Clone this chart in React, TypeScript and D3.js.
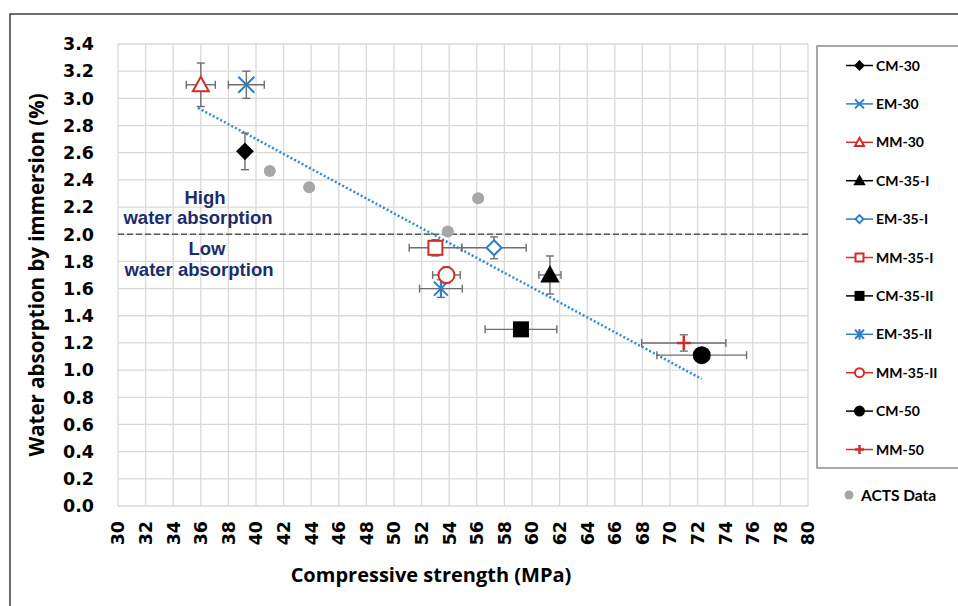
import React from "react";
import * as d3 from "d3";

// ---- data ----
const seriesNames = ["CM-30", "EM-30", "MM-30", "CM-35-I", "EM-35-I", "MM-35-I", "CM-35-II", "EM-35-II", "MM-35-II", "CM-50", "MM-50"];
const strengthMPa = [39.2, 39.3, 36.0, 61.3, 57.25, 53.0, 59.2, 53.4, 53.8, 72.3, 71.0];
const absorptionPct = [2.61, 3.1, 3.1, 1.7, 1.9, 1.9, 1.3, 1.6, 1.7, 1.11, 1.2];
const strengthErr = [0, 1.3, 1.05, 0.8, 2.33, 1.9, 2.6, 1.55, 1.0, 3.25, 3.05];
const absorptionErr = [0.135, 0.1, 0.16, 0.14, 0.08, 0.06, 0.04, 0.065, 0.06, 0.03, 0.06];
const markerShapes = ["diamond", "x", "triangle", "triangle", "diamond", "square", "square", "asterisk", "circle", "circle", "plus"];
const markerFilled = [true, false, false, true, false, false, true, false, false, true, false];
const seriesColors = ["#000000", "#2E7DC8", "#D42A2A", "#000000", "#2E7DC8", "#D42A2A", "#000000", "#2E7DC8", "#D42A2A", "#000000", "#D42A2A"];

const actsStrength = [41.0, 43.85, 53.9, 56.1];
const actsAbsorption = [2.465, 2.345, 2.02, 2.265];

const trendStrength = [35.8, 72.3];
const trendAbsorption = [2.93, 0.935];

const xTicks = d3.range(30, 81, 2);
const yTicks = d3.range(0, 3.41, 0.2);
const thresholdValue = 2.0;

// ---- layout ----
const W = 958, H = 606;
const x = d3.scaleLinear().domain([30, 80]).range([118, 808]);
const y = d3.scaleLinear().domain([0, 3.4]).range([506, 44]);

function Marker({ shape, filled, color, cx, cy, s }: any) {
  const fill = filled ? color : "white";
  const sw = 2;
  switch (shape) {
    case "diamond":
      return <path d={`M${cx},${cy - s}L${cx + s},${cy}L${cx},${cy + s}L${cx - s},${cy}Z`} fill={fill} stroke={color} strokeWidth={sw} />;
    case "triangle": {
      const h = s * 1.0;
      return <path d={`M${cx},${cy - h}L${cx + s},${cy + h * 0.8}L${cx - s},${cy + h * 0.8}Z`} fill={fill} stroke={color} strokeWidth={sw} strokeLinejoin="miter" />;
    }
    case "square":
      return <rect x={cx - s} y={cy - s} width={2 * s} height={2 * s} fill={fill} stroke={color} strokeWidth={sw} />;
    case "circle":
      return <circle cx={cx} cy={cy} r={s} fill={fill} stroke={color} strokeWidth={sw} />;
    case "x":
      return <path d={`M${cx - s},${cy - s}L${cx + s},${cy + s}M${cx - s},${cy + s}L${cx + s},${cy - s}`} stroke={color} strokeWidth={sw} fill="none" />;
    case "asterisk":
      return <path d={`M${cx - s},${cy - s}L${cx + s},${cy + s}M${cx - s},${cy + s}L${cx + s},${cy - s}M${cx},${cy - s * 1.2}L${cx},${cy + s * 1.2}`} stroke={color} strokeWidth={sw} fill="none" />;
    case "plus":
      return <path d={`M${cx - s},${cy}L${cx + s},${cy}M${cx},${cy - s}L${cx},${cy + s}`} stroke={color} strokeWidth={2.5} fill="none" />;
    default:
      return null;
  }
}

const markerSize: Record<string, number> = { diamond: 7.5, x: 8, triangle: 8, square: 7, circle: 8, asterisk: 7, plus: 7 };
const legendSize: Record<string, number> = { diamond: 4, x: 4.5, triangle: 4.5, square: 4, circle: 4.5, asterisk: 4.5, plus: 4.5 };

export default function App() {
  const [x0, x1] = x.range();
  const [y0, y1] = y.range();
  const errColor = "#6E6E6E";
  const cap = 4;
  const legendY0 = 65.5, legendStep = 38.4;
  const trendLine = d3.line<number>()
    .x((_, i) => x(trendStrength[i]))
    .y((d) => y(d));

  return (
    <svg width={W} height={H} style={{ position: "absolute", left: 0, top: 0, background: "white" }}>
      <rect x={0} y={0} width={W} height={H} fill="white" />
      {/* outer frame */}
      <rect x={10} y={14} width={970} height={610} fill="none" stroke="#3C3C3C" strokeWidth={1.5} />

      {/* grid */}
      {xTicks.map((t) => (
        <line key={"gx" + t} x1={x(t)} x2={x(t)} y1={y1} y2={y0} stroke="#D9D9D9" strokeWidth={1.3} />
      ))}
      {yTicks.map((t, i) => (
        <line key={"gy" + i} x1={x0} x2={x1} y1={y(t)} y2={y(t)} stroke="#D9D9D9" strokeWidth={1.3} />
      ))}

      {/* y tick labels */}
      {yTicks.map((t, i) => (
        <text key={"yl" + i} x={94} y={y(t)} dy="0.36em" textAnchor="end" fontFamily="DejaVu Sans" fontWeight="bold" fontSize={17.5} fill="#000">
          {t.toFixed(1)}
        </text>
      ))}
      {/* x tick labels */}
      {xTicks.map((t) => (
        <text key={"xl" + t} transform={`translate(${x(t)},521) rotate(-90)`} dy="0.36em" textAnchor="end" fontFamily="DejaVu Sans" fontWeight="bold" fontSize={17.5} fill="#000">
          {t}
        </text>
      ))}

      {/* axis titles */}
      <text x={431} y={582} textAnchor="middle" fontFamily="Open Sans" fontWeight="bold" fontSize={20} fill="#000">
        Compressive strength (MPa)
      </text>
      <text transform="translate(44,275) rotate(-90)" textAnchor="middle" fontFamily="Open Sans" fontWeight="bold" fontSize={20.5} fill="#000">
        Water absorption  by immersion (%)
      </text>

      {/* threshold */}
      <line x1={x0} x2={x1} y1={y(thresholdValue)} y2={y(thresholdValue)} stroke="#595959" strokeWidth={1.3} strokeDasharray="6 3" />
      <g fontFamily="Liberation Sans" fontWeight="bold" fontSize={18.5} fill="#1B2D6B" textAnchor="middle">
        <text x={205} y={204}>High</text>
        <text x={198} y={224}>water absorption</text>
        <text x={207} y={255}>Low</text>
        <text x={199} y={276}>water absorption</text>
      </g>

      {/* trend line */}
      <path d={trendLine(trendAbsorption) || ""} fill="none" stroke="#2E8BD8" strokeWidth={2.5} strokeDasharray="2 2.2" />

      {/* ACTS data */}
      {actsStrength.map((s, i) => (
        <circle key={"acts" + i} cx={x(s)} cy={y(actsAbsorption[i])} r={6} fill="#A6A6A6" />
      ))}

      {/* error bars */}
      {seriesNames.map((n, i) => {
        const cx = x(strengthMPa[i]);
        const cy = y(absorptionPct[i]);
        const xl = x(strengthMPa[i] - strengthErr[i]);
        const xr = x(strengthMPa[i] + strengthErr[i]);
        const yt = y(absorptionPct[i] + absorptionErr[i]);
        const yb = y(absorptionPct[i] - absorptionErr[i]);
        return (
          <g key={"err" + n} stroke={errColor} strokeWidth={1.4}>
            {strengthErr[i] > 0 && (
              <>
                <line x1={xl} x2={xr} y1={cy} y2={cy} />
                <line x1={xl} x2={xl} y1={cy - cap} y2={cy + cap} />
                <line x1={xr} x2={xr} y1={cy - cap} y2={cy + cap} />
              </>
            )}
            <line x1={cx} x2={cx} y1={yt} y2={yb} />
            <line x1={cx - cap} x2={cx + cap} y1={yt} y2={yt} />
            <line x1={cx - cap} x2={cx + cap} y1={yb} y2={yb} />
          </g>
        );
      })}

      {/* markers */}
      {seriesNames.map((n, i) => (
        <Marker key={"m" + n} shape={markerShapes[i]} filled={markerFilled[i]} color={seriesColors[i]}
          cx={x(strengthMPa[i])} cy={y(absorptionPct[i])} s={markerSize[markerShapes[i]]} />
      ))}

      {/* legend */}
      <rect x={817} y={46} width={160} height={422} fill="white" stroke="#8C8C8C" strokeWidth={1.5} />
      {seriesNames.map((n, i) => {
        const ly = legendY0 + i * legendStep;
        return (
          <g key={"lg" + n}>
            <line x1={846} x2={873} y1={ly} y2={ly} stroke={seriesColors[i]} strokeWidth={1.5} />
            <Marker shape={markerShapes[i]} filled={markerFilled[i]} color={seriesColors[i]} cx={859.5} cy={ly} s={legendSize[markerShapes[i]]} />
            <text x={876} y={ly} dy="0.36em" fontFamily="Lato" fontWeight="bold" fontSize={14} fill="#000">{n}</text>
          </g>
        );
      })}
      <circle cx={849} cy={495} r={4.5} fill="#A6A6A6" />
      <text x={861} y={495} dy="0.36em" fontFamily="Lato" fontWeight="bold" fontSize={15.5} fill="#000">ACTS Data</text>
    </svg>
  );
}
